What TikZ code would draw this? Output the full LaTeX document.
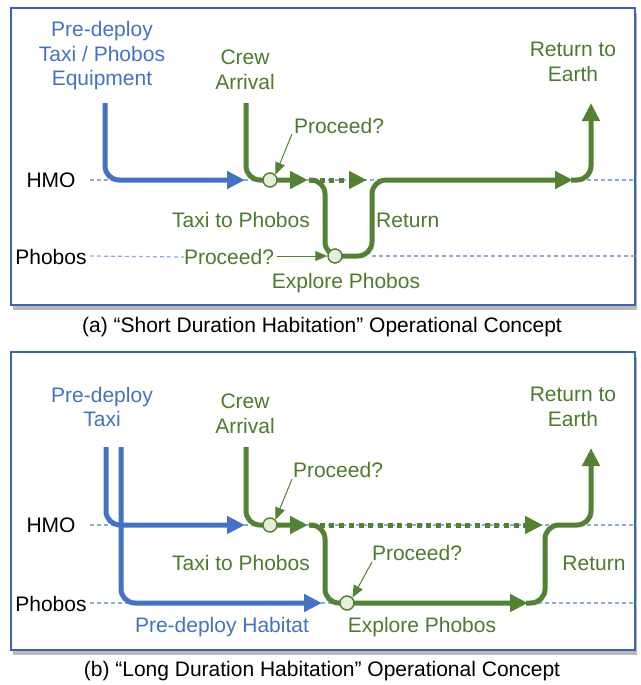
\documentclass[tikz,border=0pt]{standalone}
\usepackage{fontspec}
\setmainfont{Liberation Sans}
\usetikzlibrary{arrows.meta,shadows}
\definecolor{bl}{HTML}{4472C4}
\definecolor{gr}{HTML}{548235}
\definecolor{grtext}{HTML}{4E7A2E}
\definecolor{lgr}{HTML}{E2EFDA}
\definecolor{dsh}{HTML}{8EAADB}
\definecolor{frm}{HTML}{3F62A8}
\tikzset{
  txt/.style={font=\fontsize{21}{24.5}\selectfont, inner sep=0pt, align=center},
  bltxt/.style={txt, text=bl},
  grtxt/.style={txt, text=grtext},
  bktxt/.style={txt, text=black},
  fat/.style={line width=5pt, rounded corners=14pt},
  blline/.style={fat, draw=bl},
  grline/.style={fat, draw=gr},
  bigtip/.style={-{Triangle[length=18pt,width=17pt]}},
  dotline/.style={line width=5pt, draw=gr, dash pattern=on 5pt off 4.7pt},
  thinarr/.style={draw=gr, line width=1pt, -{Triangle[length=12pt,width=10pt]}},
  level/.style={draw=dsh, line width=1.2pt, dash pattern=on 4pt off 3pt},
  decision/.style={circle, draw=gr, fill=lgr, line width=1.5pt, minimum size=14pt, inner sep=0pt},
  panel/.style={draw=frm, line width=2pt, fill=white, minimum width=624pt, inner sep=0pt,
     drop shadow={shadow xshift=2pt, shadow yshift=-5pt, fill=black!45, opacity=0.6}}
}
\begin{document}
\begin{tikzpicture}[x=1pt,y=-1pt]
\useasboundingbox (0,0) rectangle (640,685);
% ---------- panel (a) ----------
\node[panel, minimum height=297pt] (frameA) at (323,156.5) {};
% levels
\coordinate (hmoAl) at (90,180);  \coordinate (hmoAr) at (635,180);
\draw[level] (hmoAl) -- (hmoAr);
\node[bktxt] (hmoA) at (51,180) {HMO};
\node[bktxt] (phobA) at (51,257) {Phobos};
\node[grtxt] (procA2) at (229,257) {Proceed?};
\coordinate (phAl) at (90,256); \coordinate (phAr) at (372,256); \coordinate (phAe) at (635,256);
\draw[level] (phAl) -- (procA2.west);
\draw[level] (phAr) -- (phAe);
% texts
\node[bltxt] (preA) at (102,56) {Pre-deploy\\Taxi / Phobos\\Equipment};
\node[grtxt] (crewA) at (245,70) {Crew\\Arrival};
\node[grtxt] (retEA) at (573,62) {Return to\\Earth};
\node[grtxt] (procA1) at (339,126) {Proceed?};
\node[grtxt] (taxiA) at (241,220) {Taxi to Phobos};
\node[grtxt, anchor=west] (retA) at (376,220) {Return};
\node[grtxt] (explA) at (346,283) {Explore Phobos};
\node[bktxt] (capA) at (322,327) {(a) “Short Duration Habitation” Operational Concept};
% blue
\coordinate (bA0) at (105,103); \coordinate (bA1) at (105,180); \coordinate (bA2) at (245,180);
\draw[blline, bigtip] (bA0) -- (bA1) -- (bA2);
% green
\coordinate (gA0) at (246,103); \coordinate (gA1) at (246,180); \coordinate (gA2) at (308,180);
\draw[grline, bigtip] (gA0) -- (gA1) -- (gA2);
\coordinate (dA0) at (310,180); \coordinate (dA1) at (367,180);
\draw[dotline, bigtip] (dA0) -- (dA1);
\coordinate (sA0) at (309,180); \coordinate (sA1) at (325,180); \coordinate (sA2) at (325,256);
\coordinate (sA3) at (372,256); \coordinate (sA4) at (372,180); \coordinate (sA5) at (573,180);
\draw[grline, bigtip] (sA0) -- (sA1) -- (sA2) -- (sA3) -- (sA4) -- (sA5);
\coordinate (rA0) at (571,180); \coordinate (rA1) at (591,180); \coordinate (rA2) at (591,103);
\draw[grline, bigtip] (rA0) -- (rA1) -- (rA2);
\node[decision] (cA1) at (270,180) {};
\node[decision] (cA2) at (335,256) {};
\coordinate (pA1s) at (292,134);
\draw[thinarr] (pA1s) -- (cA1.north east);
\coordinate (pA2s) at (277,256);
\draw[thinarr] (pA2s) -- (cA2.west);
% ---------- panel (b) ----------
\node[panel, minimum height=298pt] (frameB) at (323,501) {};
\coordinate (hmoBl) at (90,525);  \coordinate (hmoBr) at (635,525);
\draw[level] (hmoBl) -- (hmoBr);
\coordinate (phBl) at (90,603);  \coordinate (phBr) at (635,603);
\draw[level] (phBl) -- (phBr);
\node[bktxt] (hmoB) at (51,525) {HMO};
\node[bktxt] (phobB) at (51,604) {Phobos};
\node[bltxt] (preB) at (102,407) {Pre-deploy\\Taxi};
\node[grtxt] (crewB) at (245,414) {Crew\\Arrival};
\node[grtxt] (retEB) at (573,407) {Return to\\Earth};
\node[grtxt] (procB1) at (338,470) {Proceed?};
\node[grtxt] (procB2) at (417,553) {Proceed?};
\node[grtxt] (taxiB) at (241,563) {Taxi to Phobos};
\node[grtxt] (retB) at (594,563) {Return};
\node[bltxt] (habB) at (222,627) {Pre-deploy Habitat};
\node[grtxt] (explB) at (422,627) {Explore Phobos};
\node[bktxt] (capB) at (322,671) {(b) “Long Duration Habitation” Operational Concept};
% blue
\coordinate (bB0) at (106,447); \coordinate (bB1) at (106,525); \coordinate (bB2) at (245,525);
\draw[blline, bigtip] (bB0) -- (bB1) -- (bB2);
\coordinate (hB0) at (121,447); \coordinate (hB1) at (121,603); \coordinate (hB2) at (322,603);
\draw[blline, bigtip] (hB0) -- (hB1) -- (hB2);
% green
\coordinate (gB0) at (246,447); \coordinate (gB1) at (246,525); \coordinate (gB2) at (308,525);
\draw[grline, bigtip] (gB0) -- (gB1) -- (gB2);
\coordinate (dB0) at (310,525); \coordinate (dB1) at (543,525);
\draw[dotline, bigtip] (dB0) -- (dB1);
\coordinate (sB0) at (309,525); \coordinate (sB1) at (325,525); \coordinate (sB2) at (325,603);
\coordinate (sB3) at (528,603);
\draw[grline, bigtip] (sB0) -- (sB1) -- (sB2) -- (sB3);
\coordinate (rB0) at (526,603); \coordinate (rB1) at (545,603); \coordinate (rB2) at (545,525);
\coordinate (rB3) at (591,525); \coordinate (rB4) at (591,448);
\draw[grline, bigtip] (rB0) -- (rB1) -- (rB2) -- (rB3) -- (rB4);
\node[decision] (cB1) at (270,525) {};
\node[decision] (cB2) at (347,603) {};
\coordinate (pB1s) at (292,479);
\draw[thinarr] (pB1s) -- (cB1.north east);
\coordinate (pB2s) at (372,562);
\draw[thinarr] (pB2s) -- (cB2.north east);
\end{tikzpicture}
\end{document}
